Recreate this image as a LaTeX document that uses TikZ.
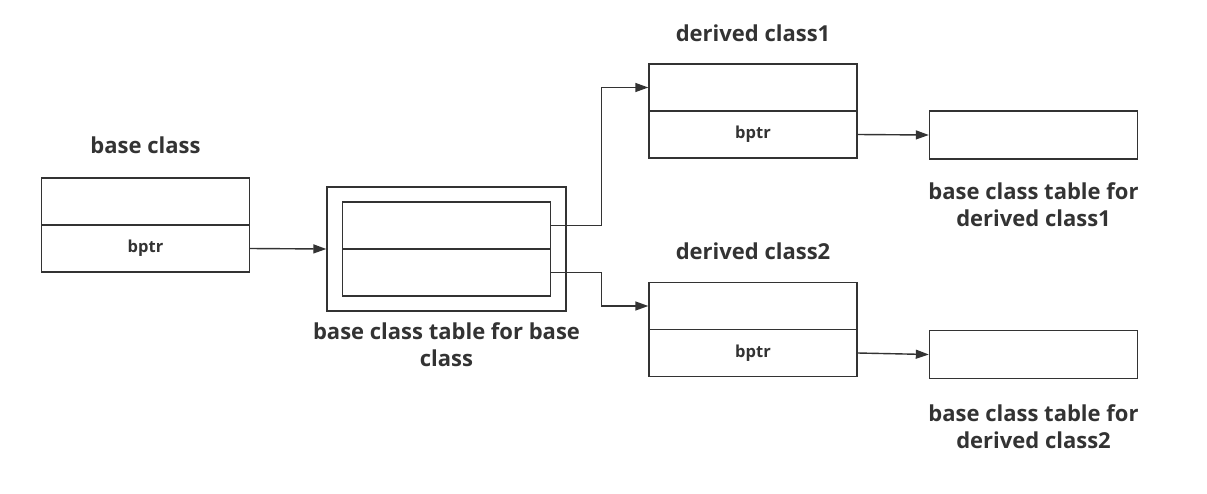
\documentclass[tikz,border=0pt]{standalone}
\usepackage{fontspec}
\setmainfont{Open Sans}
\usetikzlibrary{arrows.meta}
\definecolor{ink}{HTML}{333333}
\begin{document}
\begin{tikzpicture}[x=1pt,y=-1pt,
  cell/.style={draw=ink, line width=1.4pt, minimum width=208pt, minimum height=47pt, inner sep=0pt,
    font=\bfseries\fontsize{16.5}{18}\selectfont, text=ink},
  tbl/.style={cell, minimum height=48pt},
  lbl/.style={font=\bfseries\fontsize{22}{27}\selectfont, text=ink, align=center, inner sep=0pt},
  conn/.style={draw=ink, line width=1.4pt, -{Triangle[length=13pt,width=9pt]}}]
\useasboundingbox (0,0) rectangle (1207,493);
% base class
\node[lbl] (lbase) at (145.5,145) {base class};
\node[cell] (b1) at (145.5,201.5) {};
\node[cell] (b2) at (145.5,248.5) {bptr};
% base class table
\node[draw=ink, line width=1.4pt, minimum width=239pt, minimum height=124pt, inner sep=0pt] (outer) at (446.5,249) {};
\node[cell] (t1) at (446.5,225.5) {};
\node[cell] (t2) at (446.5,272.5) {};
\node[lbl] (ltbl) at (446.5,345) {base class table for base\\class};
% derived class1
\node[lbl] (ld1) at (753,33) {derived class1};
\node[cell] (d1a) at (753,87.5) {};
\node[cell] (d1b) at (753,134.5) {bptr};
\node[tbl] (tb1) at (1033.5,135) {};
\node[lbl] (ltb1) at (1033.5,205) {base class table for\\derived class1};
% derived class2
\node[lbl] (ld2) at (753,251) {derived class2};
\node[cell] (d2a) at (753,306) {};
\node[cell] (d2b) at (753,353) {bptr};
\node[tbl] (tb2) at (1033.5,354.5) {};
\node[lbl] (ltb2) at (1033.5,427) {base class table for\\derived class2};
% connectors
\draw[conn] (b2.east) -- (outer.west);
\draw[conn] (t1.east) -- ++(50,0) |- (d1a.west);
\draw[conn] (t2.east) -- ++(50,0) |- (d2a.west);
\draw[conn] (d1b.east) -- (tb1.west);
\draw[conn] (d2b.east) -- (tb2.west);
\end{tikzpicture}
\end{document}
